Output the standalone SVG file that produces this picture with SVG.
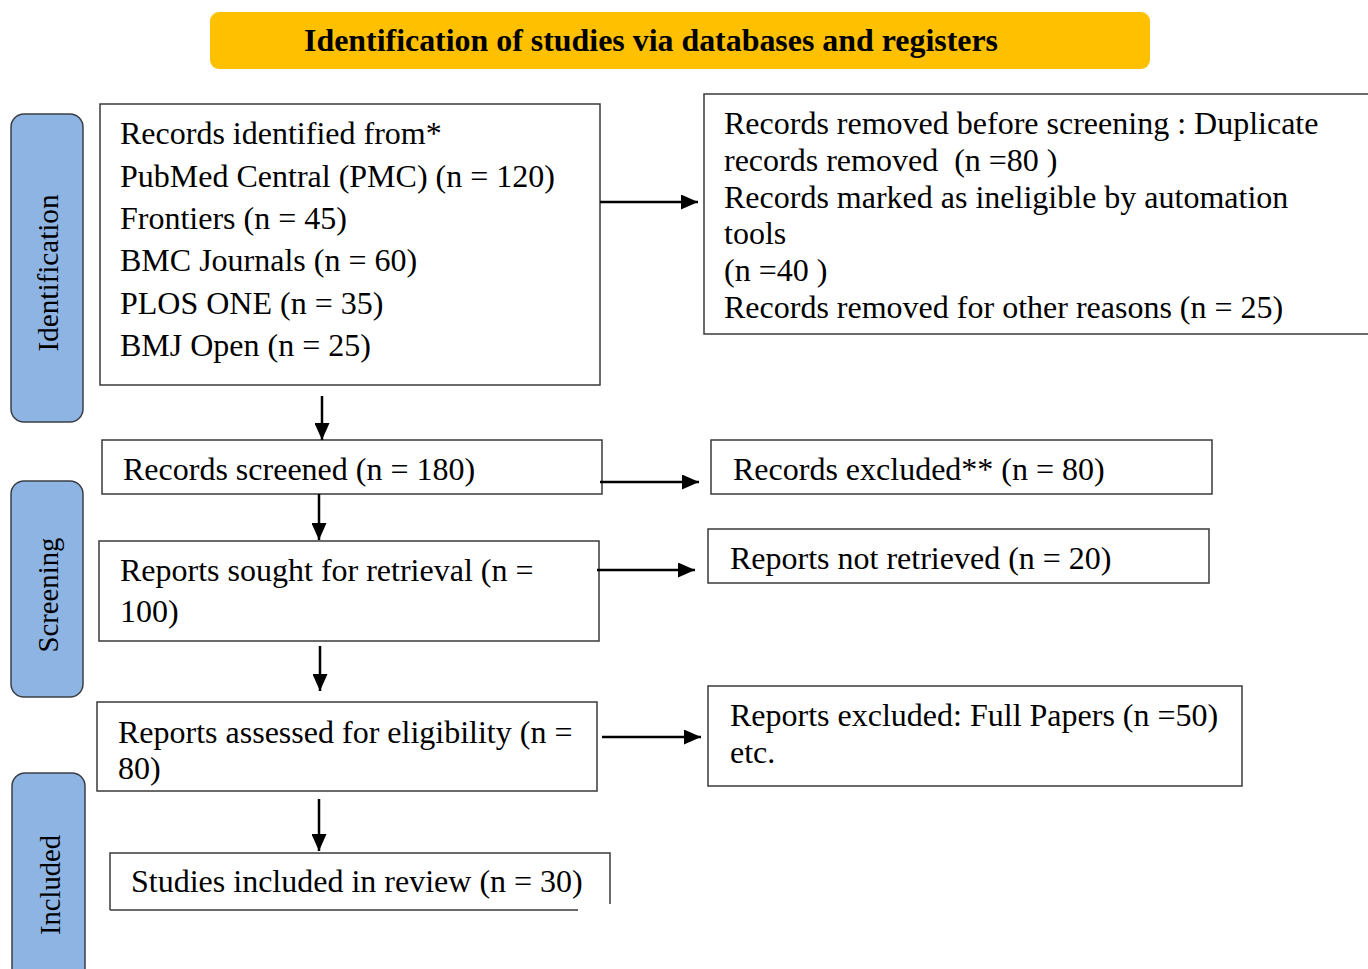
<svg xmlns="http://www.w3.org/2000/svg" width="1368" height="969" viewBox="0 0 1368 969">
<style>
.box{fill:#fff;stroke:#3a3a3a;stroke-width:1.5}
.side{fill:#8EB4E3;stroke:#3b3f45;stroke-width:1.5}
.t{font-family:"Liberation Serif","Times New Roman",serif;font-size:32px;fill:#000}
.v{font-family:"Liberation Serif","Times New Roman",serif;font-size:30px;fill:#000}
.title{font-family:"Liberation Serif","Times New Roman",serif;font-size:32px;font-weight:bold;fill:#000}
.c{stroke:#000;stroke-width:2.5;fill:none}
</style>
<defs>
<marker id="ah" markerWidth="17" markerHeight="15" refX="17" refY="7.5" orient="auto" markerUnits="userSpaceOnUse">
<path d="M0,0 L17,7.5 L0,15 Z" fill="#000"/>
</marker>
</defs>
<rect width="1368" height="969" fill="#fff"/>

<g id="title">
<rect x="210" y="12" width="940" height="57" rx="9" fill="#FFC000"/>
<text class="title" x="651" y="51" text-anchor="middle" textLength="694" lengthAdjust="spacingAndGlyphs">Identification of studies via databases and registers</text>
</g>

<g id="phase-identification">
<rect class="side" x="11" y="114" width="72" height="308" rx="13"/>
<text class="v" transform="translate(58,273) rotate(-90)" text-anchor="middle" textLength="157" lengthAdjust="spacingAndGlyphs">Identification</text>
</g>
<g id="phase-screening">
<rect class="side" x="11" y="481" width="72" height="216" rx="13"/>
<text class="v" transform="translate(58,595) rotate(-90)" text-anchor="middle" textLength="115" lengthAdjust="spacingAndGlyphs">Screening</text>
</g>
<g id="phase-included">
<rect class="side" x="12" y="773" width="73" height="210" rx="13"/>
<text class="v" transform="translate(60,885) rotate(-90)" text-anchor="middle" textLength="100" lengthAdjust="spacingAndGlyphs">Included</text>
</g>

<g id="records-identified">
<rect class="box" x="100" y="104" width="500" height="281"/>
<text class="t" x="120" y="144">Records identified from*</text>
<text class="t" x="120" y="187">PubMed Central (PMC) (n = 120)</text>
<text class="t" x="120" y="229">Frontiers (n = 45)</text>
<text class="t" x="120" y="271">BMC Journals (n = 60)</text>
<text class="t" x="120" y="314">PLOS ONE (n = 35)</text>
<text class="t" x="120" y="356">BMJ Open (n = 25)</text>
</g>

<g id="records-removed">
<rect class="box" x="704" y="94" width="680" height="240"/>
<text class="t" x="724" y="134">Records removed before screening : Duplicate</text>
<text class="t" x="724" y="171" xml:space="preserve">records removed  (n =80 )</text>
<text class="t" x="724" y="208">Records marked as ineligible by automation</text>
<text class="t" x="724" y="244">tools</text>
<text class="t" x="724" y="281">(n =40 )</text>
<text class="t" x="724" y="318">Records removed for other reasons (n = 25)</text>
</g>

<g id="records-screened">
<rect class="box" x="102" y="440" width="500" height="54"/>
<text class="t" x="123" y="480">Records screened (n = 180)</text>
</g>

<g id="records-excluded">
<rect class="box" x="711" y="440" width="501" height="54"/>
<text class="t" x="733" y="480">Records excluded** (n = 80)</text>
</g>

<g id="reports-sought">
<rect class="box" x="99" y="541" width="500" height="100"/>
<text class="t" x="120" y="581">Reports sought for retrieval (n =</text>
<text class="t" x="120" y="622">100)</text>
</g>

<g id="reports-not-retrieved">
<rect class="box" x="708" y="529" width="501" height="54"/>
<text class="t" x="730" y="569">Reports not retrieved (n = 20)</text>
</g>

<g id="reports-assessed">
<rect class="box" x="97" y="702" width="500" height="89"/>
<text class="t" x="118" y="743">Reports assessed for eligibility (n =</text>
<text class="t" x="118" y="779">80)</text>
</g>

<g id="reports-excluded">
<rect class="box" x="708" y="686" width="534" height="100"/>
<text class="t" x="730" y="726">Reports excluded: Full Papers (n =50)</text>
<text class="t" x="730" y="763">etc.</text>
</g>

<g id="studies-included">
<path d="M110,910 L110,853 L610,853 L610,904 M110,910 L578,910" fill="none" stroke="#3a3a3a" stroke-width="1.5"/>
<text class="t" x="131" y="892">Studies included in review (n = 30)</text>
</g>

<g id="connectors">
<line class="c" x1="600" y1="202" x2="698" y2="202" marker-end="url(#ah)"/>
<line class="c" x1="322" y1="396" x2="322" y2="440" marker-end="url(#ah)"/>
<line class="c" x1="600" y1="482" x2="699" y2="482" marker-end="url(#ah)"/>
<line class="c" x1="319" y1="494" x2="319" y2="540" marker-end="url(#ah)"/>
<line class="c" x1="597" y1="570" x2="695" y2="570" marker-end="url(#ah)"/>
<line class="c" x1="320" y1="646" x2="320" y2="691" marker-end="url(#ah)"/>
<line class="c" x1="602" y1="737" x2="701" y2="737" marker-end="url(#ah)"/>
<line class="c" x1="319" y1="799" x2="319" y2="851" marker-end="url(#ah)"/>
</g>
</svg>
